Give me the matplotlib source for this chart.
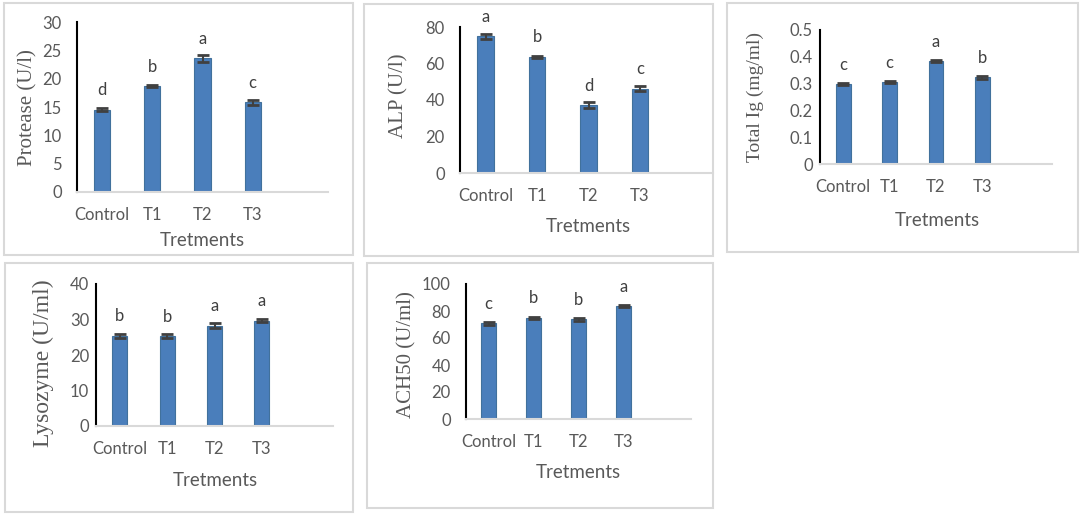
import matplotlib
matplotlib.use('Agg')
import matplotlib.pyplot as plt
from matplotlib.patches import Rectangle
from matplotlib.ticker import FuncFormatter, MultipleLocator
import numpy as np

# 数据
categories = ['Control', 'T1', 'T2', 'T3']

protease = [14.5, 18.7, 23.6, 15.8]
protease_err = [0.25, 0.2, 0.6, 0.5]
protease_letters = ['d', 'b', 'a', 'c']

alp = [74.8, 63.6, 37.2, 46.2]
alp_err = [1.2, 0.6, 1.8, 1.2]
alp_letters = ['a', 'b', 'd', 'c']

total_ig = [0.298, 0.305, 0.384, 0.324]
total_ig_err = [0.003, 0.003, 0.005, 0.005]
total_ig_letters = ['c', 'c', 'a', 'b']

lysozyme = [25.4, 25.3, 28.3, 29.7]
lysozyme_err = [0.6, 0.5, 0.8, 0.4]
lysozyme_letters = ['b', 'b', 'a', 'a']

ach50 = [71.0, 75.0, 73.8, 83.7]
ach50_err = [1.2, 0.8, 1.0, 0.8]
ach50_letters = ['c', 'b', 'b', 'a']

W, H = 1084, 521
BAR = '#4a7ebb'
GREY = '#595959'
SANS = 'Lato'
SERIF = 'Liberation Serif'

fig = plt.figure(figsize=(W / 100, H / 100), dpi=100)


def fx(x):
    return x / W


def fy(y):
    return 1 - y / H


def draw_panel(box, axpx, vals, errs, letters, ymax, ystep, ylabel, ylabel_xy,
               xlabel_xy, ypad, ylabel_size, xmax=4.5):
    # 外框
    bx0, by0, bx1, by1 = box
    fig.patches.append(Rectangle((fx(bx0), fy(by1)), fx(bx1 - bx0), (by1 - by0) / H,
                                 transform=fig.transFigure, fill=False,
                                 edgecolor='#d9d9d9', linewidth=1.5))
    x0, y0, x1, y1 = axpx
    ax = fig.add_axes([fx(x0), fy(y1), fx(x1 - x0), (y1 - y0) / H])
    x = np.arange(len(vals))
    ax.bar(x, vals, width=0.32, color=BAR, edgecolor='#41719c', linewidth=0.8, zorder=2)
    ax.errorbar(x, vals, yerr=errs, fmt='none', ecolor='#404040',
                elinewidth=1.5, capsize=4.5, capthick=2, zorder=3)
    for xi, v, e, lt in zip(x, vals, errs, letters):
        ax.annotate(lt, (xi, v), xytext=(0, 14), textcoords='offset points',
                    ha='center', va='center', fontsize=12, color='#404040',
                    family=SANS)
    ax.set_xlim(-0.5, xmax)
    ax.set_ylim(0, ymax)
    ax.yaxis.set_major_locator(MultipleLocator(ystep))
    ax.yaxis.set_major_formatter(FuncFormatter(lambda v, p: f'{v:g}'))
    ax.set_xticks(x)
    ax.set_xticklabels(categories)
    ax.tick_params(axis='both', length=0, labelcolor=GREY, labelsize=12)
    ax.tick_params(axis='x', pad=11)
    ax.tick_params(axis='y', pad=ypad)
    for lab in ax.get_xticklabels() + ax.get_yticklabels():
        lab.set_family(SANS)
    ax.spines['top'].set_visible(False)
    ax.spines['right'].set_visible(False)
    ax.spines['left'].set_color('black')
    ax.spines['left'].set_linewidth(1.5)
    ax.spines['bottom'].set_color('#d9d9d9')
    ax.spines['bottom'].set_linewidth(1.5)
    ax.patch.set_alpha(0)
    fig.text(fx(xlabel_xy[0]), fy(xlabel_xy[1]), 'Tretments', ha='center', va='center',
             fontsize=13.5, color=GREY, family=SANS)
    fig.text(fx(ylabel_xy[0]), fy(ylabel_xy[1]), ylabel, ha='center', va='center',
             rotation=90, fontsize=ylabel_size, color=GREY, family=SERIF)
    return ax


draw_panel((4, 3, 353, 255), (77, 22, 328, 192), protease, protease_err, protease_letters,
           30, 5, 'Protease (U/l)', (28, 108), (202, 240), 11, 15)
draw_panel((364, 4, 713, 256), (460, 27, 713, 173), alp, alp_err, alp_letters,
           80, 20, 'ALP (U/l)', (399, 96), (588, 227), 11, 15, xmax=4.42)
draw_panel((727, 3, 1078, 252), (820, 30, 1052, 164), total_ig, total_ig_err, total_ig_letters,
           0.5, 0.1, 'Total Ig (mg/ml)', (755, 97), (937, 220), 5, 14)
draw_panel((5, 263, 353, 512), (96, 284, 333, 426), lysozyme, lysozyme_err, lysozyme_letters,
           40, 10, 'Lysozyme (U/ml)', (43, 363), (215, 480), 5, 17)
draw_panel((367, 263, 713, 508), (466, 284, 691, 419), ach50, ach50_err, ach50_letters,
           100, 20, 'ACH50 (U/ml)', (407, 355), (578, 472), 11, 15)

plt.savefig('out.png', dpi=100)
